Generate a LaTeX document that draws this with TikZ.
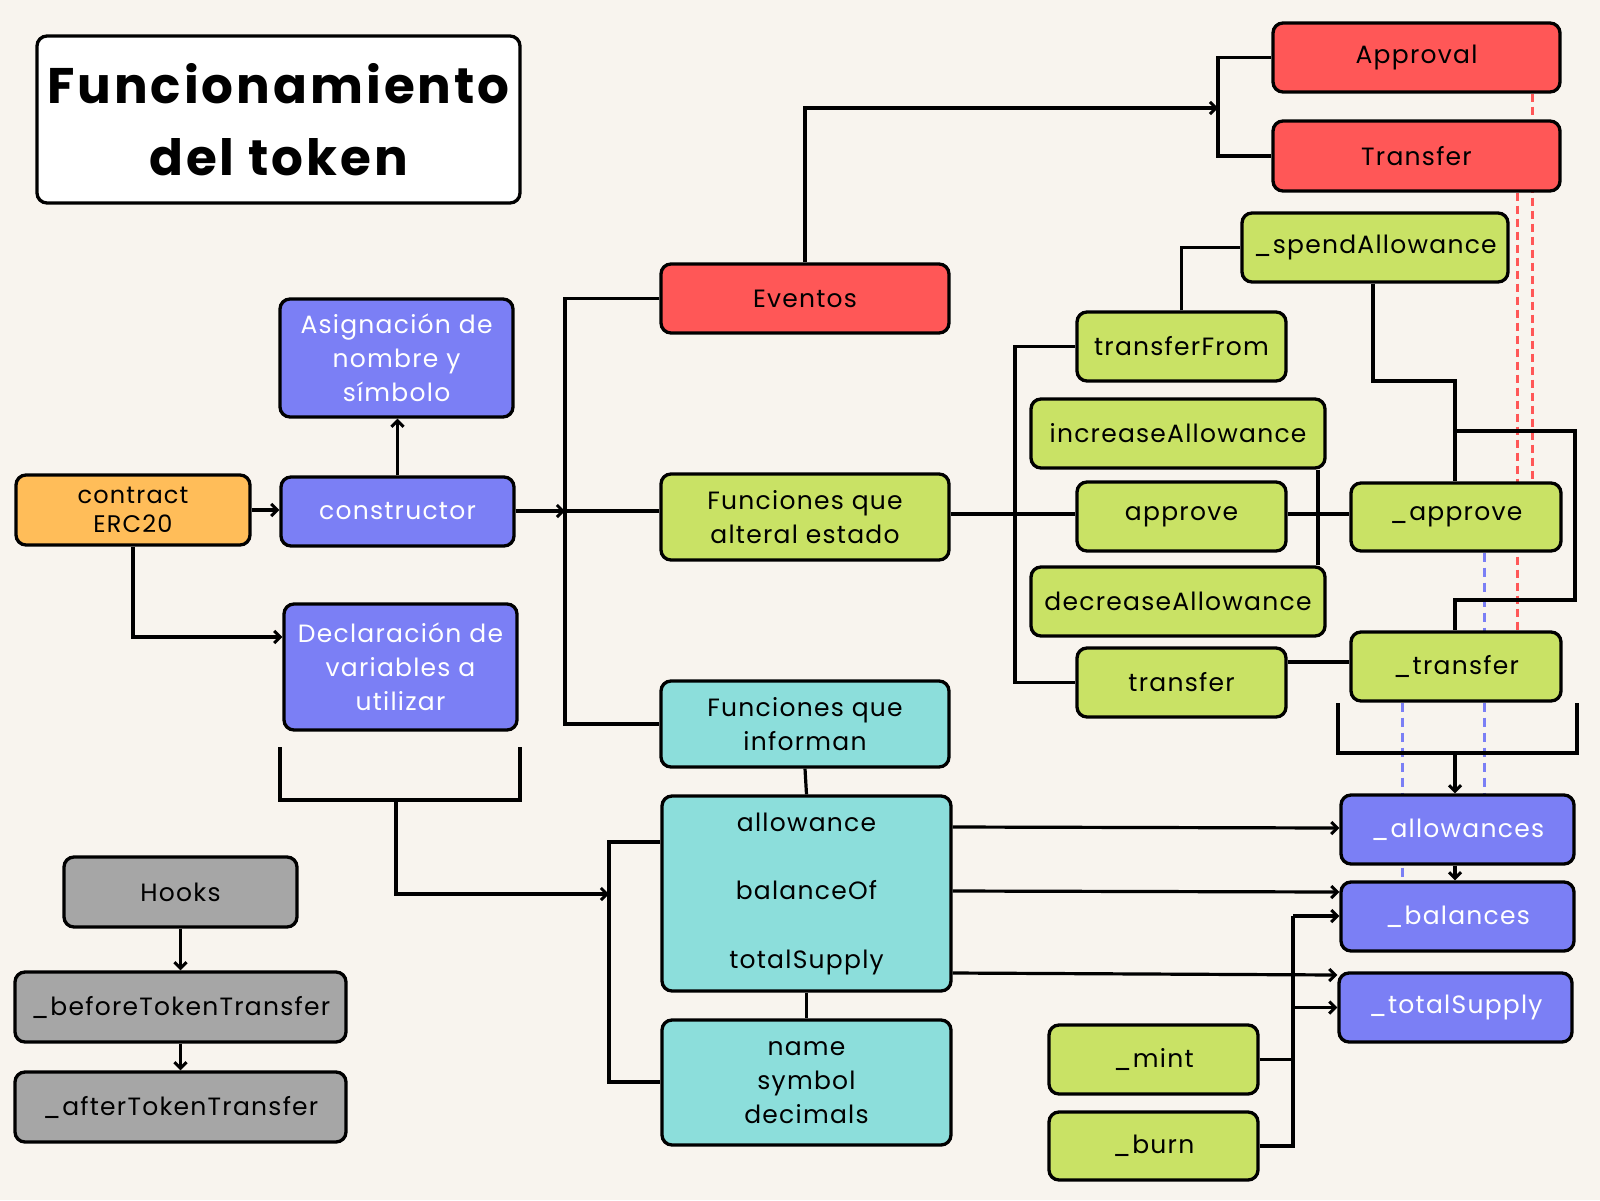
\documentclass[tikz,border=0pt]{standalone}
\usepackage{fontspec}
\setmainfont{Poppins}[LetterSpace=5]
\newfontfamily\ttlfamily{Poppins}[LetterSpace=6]
\usetikzlibrary{arrows.meta,backgrounds}
\definecolor{bgc}{HTML}{F8F4EE}
\definecolor{cred}{HTML}{FF5757}
\definecolor{cgreen}{HTML}{C9E265}
\definecolor{cpurple}{HTML}{7B7FF5}
\definecolor{cteal}{HTML}{8CDEDB}
\definecolor{corange}{HTML}{FFBD59}
\definecolor{cgray}{HTML}{A6A6A6}
\definecolor{cbdash}{HTML}{7B7FF5}
\newcommand\bodyfnt{\fontsize{25}{34}\selectfont}
\newcommand\ttlfnt{\ttlfamily\bfseries\fontsize{50}{72}\selectfont}
\begin{document}
\begin{tikzpicture}[x=1pt,y=-1pt,
  box/.style={draw=black,line width=3.3pt,rounded corners=10pt,align=center,inner sep=0pt,font=\bodyfnt,text=black},
  redbox/.style={box,fill=cred},
  greenbox/.style={box,fill=cgreen},
  purplebox/.style={box,fill=cpurple,text=white},
  tealbox/.style={box,fill=cteal},
  graybox/.style={box,fill=cgray},
  line/.style={draw=black,line width=3.2pt},
  arr/.style={line,-{Straight Barb[length=6pt,width=12pt,line width=3pt]}},
  rdash/.style={draw=cred,line width=3pt,dash pattern=on 8pt off 5pt},
  bdash/.style={draw=cbdash,line width=3pt,dash pattern=on 9pt off 6pt}]
\useasboundingbox (0,0) rectangle (1600,1200);

% title
\node[box,fill=white,minimum width=483pt,minimum height=167pt,font=\ttlfnt] (title) at (278.5,119.5) {Funcionamiento\\del token};

% left column
\node[box,fill=corange,minimum width=234pt,minimum height=70pt,font=\fontsize{24}{29}\selectfont] (contract) at (133,510) {contract\\ERC20};
\node[purplebox,minimum width=233pt,minimum height=118pt] (asig) at (396.5,358) {Asignación de\\nombre y\\símbolo};
\node[purplebox,minimum width=233pt,minimum height=69pt] (constructor) at (397.5,511.5) {constructor};
\node[purplebox,minimum width=233pt,minimum height=126pt] (decl) at (400.5,667) {Declaración de\\variables a\\utilizar};
\node[graybox,minimum width=233pt,minimum height=70pt] (hooks) at (180.5,892) {Hooks};
\node[graybox,minimum width=331pt,minimum height=70pt] (before) at (180.5,1007) {\_beforeTokenTransfer};
\node[graybox,minimum width=331pt,minimum height=70pt] (after) at (180.5,1107) {\_afterTokenTransfer};

% middle column
\node[redbox,minimum width=288pt,minimum height=69pt] (eventos) at (805,298.5) {Eventos};
\node[greenbox,minimum width=288pt,minimum height=86pt] (alteral) at (805,517) {Funciones que\\alteral estado};
\node[tealbox,minimum width=288pt,minimum height=86pt] (informan) at (805,724) {Funciones que\\informan};
\node[tealbox,minimum width=289pt,minimum height=195pt] (getters) at (806.5,893.5) {allowance\\[34.5pt]balanceOf\\[34.5pt]totalSupply};
\node[tealbox,minimum width=289pt,minimum height=125pt] (namebox) at (806.5,1082.5) {name\\symbol\\decimals};

% right part
\node[redbox,minimum width=287pt,minimum height=69pt] (Approval) at (1416.5,57.5) {Approval};
\node[redbox,minimum width=287pt,minimum height=70pt] (TransferEv) at (1416.5,156) {Transfer};
\node[greenbox,minimum width=266pt,minimum height=69pt] (spend) at (1375,247.5) {\_spendAllowance};
\node[greenbox,minimum width=209pt,minimum height=69pt] (transferFrom) at (1181.5,346.5) {transferFrom};
\node[greenbox,minimum width=294pt,minimum height=69pt] (increase) at (1178,433.5) {increaseAllowance};
\node[greenbox,minimum width=209pt,minimum height=69pt] (approve) at (1181.5,516.5) {approve};
\node[greenbox,minimum width=294pt,minimum height=69pt] (decrease) at (1178,601.5) {decreaseAllowance};
\node[greenbox,minimum width=209pt,minimum height=69pt] (transfer) at (1181.5,682.5) {transfer};
\node[greenbox,minimum width=210pt,minimum height=68pt] (uapprove) at (1456,517) {\_approve};
\node[greenbox,minimum width=210pt,minimum height=69pt] (utransfer) at (1456,666.5) {\_transfer};
\node[purplebox,minimum width=233pt,minimum height=69pt] (uallow) at (1457.5,829.5) {\_allowances};
\node[purplebox,minimum width=233pt,minimum height=69pt] (ubal) at (1457.5,916.5) {\_balances};
\node[purplebox,minimum width=233pt,minimum height=69pt] (utot) at (1455.5,1007.5) {\_totalSupply};
\node[greenbox,minimum width=209pt,minimum height=69pt] (umint) at (1153.5,1059.5) {\_mint};
\node[greenbox,minimum width=209pt,minimum height=68pt] (uburn) at (1153.5,1146) {\_burn};

% background and dashed links
\begin{scope}[on background layer]
\fill[bgc] (0,0) rectangle (1600,1200);
\draw[rdash] (Approval.south -| 1532,0) -- (uapprove.north -| 1532,0);
\draw[rdash] (TransferEv.south -| 1517,0) -- (utransfer.north -| 1517,0);
\draw[bdash] (uapprove.south -| 1484,0) -- (uallow.north -| 1484,0);
\draw[bdash] (utransfer.south -| 1402,0) -- (ubal.north -| 1402,0);
\end{scope}

% left connectors
\draw[arr] (contract.east) -- (constructor.west |- contract.east);
\draw[arr] (contract.south) |- (decl.west |- 0,637);
\draw[arr] (constructor.north) -- (constructor.north |- asig.south);
\coordinate (trk) at (565,511);
\draw[arr] (constructor.east |- trk) -- (trk);
\draw[line] (eventos.west) -| (trk) |- (informan.west);
\draw[line] (trk) -- (alteral.west |- trk);
\draw[arr] (hooks.south) -- (before.north);
\draw[arr] (before.south) -- (after.north);

% declaration bracket
\coordinate (db) at (396,800);
\coordinate (gb) at (609,894);
\draw[line] (280,747) |- (520,800) -- (520,747);
\draw[arr] (db) |- (gb);
\draw[line] (getters.west |- 0,842) -| (gb) |- (namebox.west |- 0,1082);
\draw[line] (informan.south) -- (getters.north);
\draw[line] (getters.south) -- (namebox.north);

% events
\coordinate (evb) at (1218,108);
\draw[arr] (eventos.north) |- (evb);
\draw[line] (Approval.west) -| (evb) |- (TransferEv.west);

% state-changing functions
\coordinate (lv) at (1015,514);
\draw[line] (alteral.east |- lv) -- (approve.west |- lv);
\draw[line] (transferFrom.west) -| (lv) |- (transfer.west);
\draw[line] (approve.east |- lv) -- (uapprove.west |- lv);
\draw[line] (increase.south -| 1318,0) -- (decrease.north -| 1318,0);
\draw[line] (transferFrom.north) |- (spend.west);
\draw[line] (transfer.east |- 0,662) -- (utransfer.west |- 0,662);
\coordinate (sj) at (1455,381);
\draw[line] (spend.south -| 1373,0) |- (sj) -- (uapprove.north -| sj);
\coordinate (sk) at (1455,431);
\draw[line] (sk) -| (1575,600) -| (utransfer.north -| sk);

% storage
\coordinate (tb) at (1455,753);
\draw[line] (1338,703) |- (1577,753) -- (1577,703);
\draw[arr] (tb) -- (uallow.north -| tb);
\draw[arr] (uallow.south -| tb) -- (ubal.north -| tb);
\draw[arr] (getters.east |- 0,827) -- (uallow.west |- 0,828);
\draw[arr] (getters.east |- 0,891) -- (ubal.west |- 0,892);
\draw[arr] (getters.east |- 0,973) -- (utot.west |- 0,975);
\coordinate (mb) at (1293,916);
\draw[line] (umint.east) -| (mb);
\draw[line] (uburn.east) -| (mb);
\draw[arr] (mb) -- (ubal.west |- mb);
\draw[arr] (mb |- utot.west) -- (utot.west);
\end{tikzpicture}
\end{document}
